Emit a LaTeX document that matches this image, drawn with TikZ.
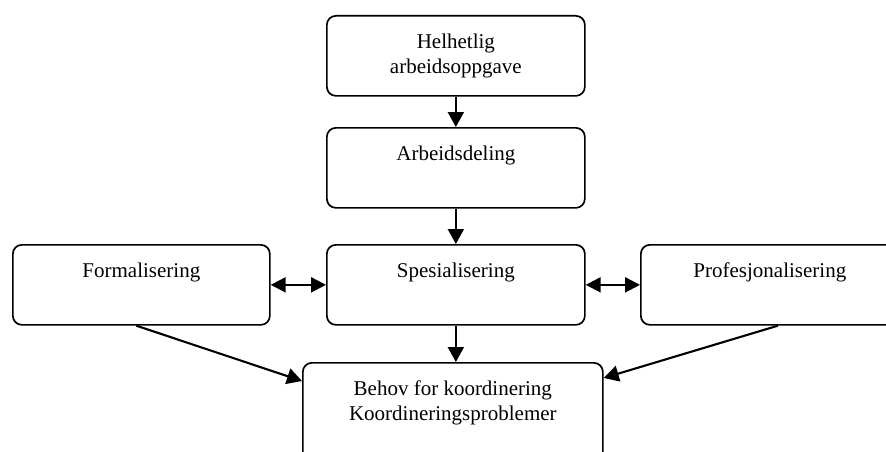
\documentclass[tikz,border=0pt]{standalone}
\usepackage{fontspec}
\setmainfont{Liberation Serif}
\usetikzlibrary{calc, arrows.meta}
\newcommand{\boxtxt}[3]{\parbox[c][#1][t]{#2}{\centering\rule{0pt}{33pt}#3}}

\tikzset{
  box/.style={draw, rounded corners=9pt, line width=1.7pt, inner sep=0pt, anchor=north west},
  arr/.style={line width=2.1pt, -{Triangle[length=15pt,width=16pt]}},
  dblarr/.style={line width=2.1pt, {Triangle[length=15pt,width=15pt]}-{Triangle[length=15pt,width=15pt]}}
}

\begin{document}
\begin{tikzpicture}[x=1pt, y=-1pt, font=\fontsize{21}{25}\selectfont]
\useasboundingbox (0,0) rectangle (886,452);
\clip (0,0) rectangle (886,452);
\node[box] (helhet) at (326,15) {\boxtxt{80pt}{258pt}{Helhetlig\\arbeidsoppgave}};
\node[box] (deling) at (326,127) {\boxtxt{80pt}{258pt}{Arbeidsdeling}};
\node[box] (spes) at (326,244) {\boxtxt{80pt}{258pt}{Spesialisering}};
\node[box] (formal) at (12,244) {\boxtxt{80pt}{257pt}{Formalisering}};
\node[box] (profesj) at (640,244) {\boxtxt{80pt}{258pt}{Profesjonalisering}};
\node[box] (behov) at (302,362) {\boxtxt{100pt}{300pt}{Behov for koordinering\\Koordineringsproblemer}};
% piler
\draw[arr] (helhet) -- (deling);
\draw[arr] (deling) -- (spes);
\draw[arr] (spes.south) -- (spes.south |- behov.north);
\draw[dblarr] (formal) -- (spes);
\draw[dblarr] (spes) -- (profesj);
\draw[arr] ($(formal.south)+(-5,0)$) -- ($(behov.north west)+(0,19)$);
\draw[arr] ($(profesj.south)+(8,0)$) -- ($(behov.north east)+(0,16)$);
\end{tikzpicture}
\end{document}
